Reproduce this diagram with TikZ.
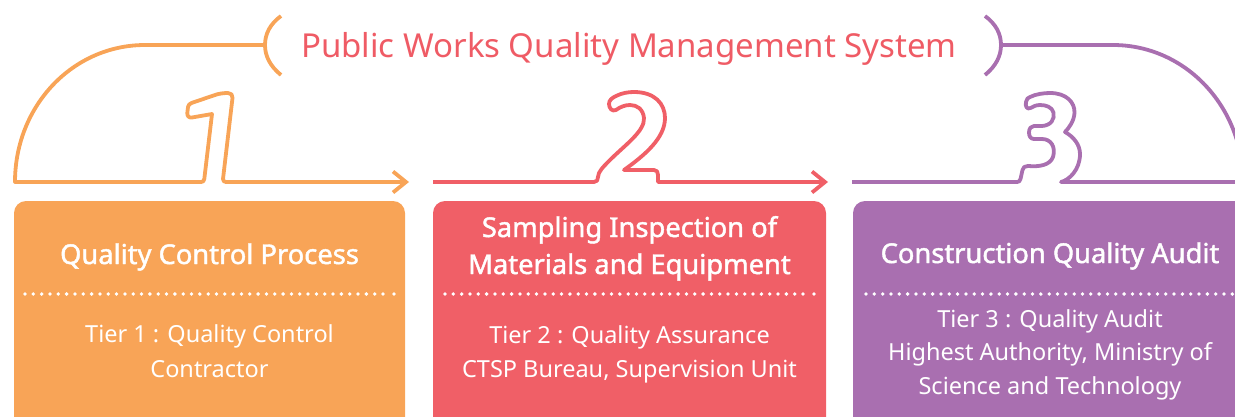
\documentclass[tikz,border=0pt]{standalone}
\usepackage{fontspec}
\setmainfont{Noto Sans}
\newfontfamily\headfont{Noto Sans}[FakeBold=1.6]
\definecolor{cOr}{HTML}{F8A457}
\definecolor{cRd}{HTML}{F05F67}
\definecolor{cPu}{HTML}{A96FB0}
\definecolor{cTitle}{HTML}{EF5B65}
\begin{document}
\begin{tikzpicture}[x=1pt,y=-1pt,
  numline/.style={line width=3.8pt, line join=round, line cap=butt},
  chev/.style={line width=3.8pt, line join=miter, line cap=butt},
  boxfill/.style={rounded corners=12pt},
  dotcol/.style={white},
  head/.style={text=white, font=\headfont\fontsize{27.3}{32}\selectfont, anchor=base, inner sep=0pt},
  body/.style={text=white, font=\fontsize{23.5}{28}\selectfont, anchor=base, inner sep=0pt},
  title/.style={text=cTitle, font=\fontsize{33}{38}\selectfont, anchor=base, inner sep=0pt}]
\useasboundingbox (0,0) rectangle (1235,416);
\clip (0,0) rectangle (1235,416);

% ---------- title ----------
\node[title] (title) at (629,57) {Public Works Quality Management System};

% ---------- orange line with numeral 1 ----------
\draw[numline, cOr] (281,16) .. controls (270,24) and (265,34) .. (265,45)
   .. controls (265,56) and (270,66) .. (281,75);
\draw[numline, cOr] (265,45) -- (145,45) .. controls (72.6,45) and (15,106) .. (15,182)
   -- (201,182) .. controls (203,182) and (204,181) .. (204.3,179)
   -- (212,114) -- (192,117.5) .. controls (189,118) and (187,116) .. (187.3,113)
   -- (188,107) .. controls (188.3,105) and (189.5,104) .. (191.5,103)
   -- (215,95) .. controls (219,93.5) and (224,93) .. (228,93)
   .. controls (231,93) and (233,95) .. (232.5,98)
   -- (223,179) .. controls (223.3,181) and (224,182) .. (226,182) -- (405,182);
\coordinate (tip1) at (406,182);
\draw[chev, cOr] (393,171.5) -- (tip1) -- (393,192.5);

% ---------- red line with numeral 2 ----------
\draw[numline, cRd] (433,182) -- (594,182) .. controls (597,182) and (598,180) .. (598,177)
   .. controls (598,172) and (603,167) .. (610,160)
   .. controls (625,145) and (645,131) .. (644,118)
   .. controls (643,109) and (637,105) .. (630,105)
   .. controls (625,105) and (620,107) .. (616,110)
   .. controls (612,112) and (609,108) .. (609,104)
   .. controls (609,100) and (612,98) .. (616,96)
   .. controls (622,93) and (628,92) .. (634,92)
   .. controls (655,92) and (665,104) .. (665,118)
   .. controls (665,138) and (645,155) .. (624,170)
   -- (654,170) .. controls (657,170) and (658,172) .. (658,175)
   -- (658,182) -- (824,182);
\coordinate (tip2) at (825,182);
\draw[chev, cRd] (812,171.5) -- (tip2) -- (812,192.5);

% ---------- purple line with numeral 3 ----------
\draw[numline, cPu] (985,16) .. controls (996,24) and (1001,34) .. (1001,45)
   .. controls (1001,56) and (996,66) .. (985,75);
\draw[numline, cPu] (852,182) -- (1017,182) .. controls (1019,182) and (1020,181) .. (1020.5,179)
   -- (1022.5,170) .. controls (1023,167) and (1025,166) .. (1028,166)
   .. controls (1040,167) and (1050,165) .. (1053,157)
   .. controls (1056,147) and (1051,139) .. (1042,139)
   -- (1034,139) .. controls (1030.5,139) and (1029,136) .. (1029,132.5)
   .. controls (1029,128.5) and (1031,126) .. (1034,126)
   -- (1042,126) .. controls (1051,125.5) and (1055,119) .. (1053.5,112.5)
   .. controls (1052,107) and (1046,105) .. (1040,105)
   .. controls (1036,105) and (1033,106.5) .. (1030.5,108)
   .. controls (1027,110) and (1025,106) .. (1026,102)
   .. controls (1026.5,99) and (1028,97.5) .. (1030,97)
   .. controls (1036,94) and (1044,93) .. (1050,93)
   .. controls (1066,93) and (1075,102) .. (1074.5,113)
   .. controls (1074,121) and (1069,128) .. (1065,132)
   .. controls (1074,137) and (1080,145) .. (1080,154)
   .. controls (1080,170) and (1069,180) .. (1061,182)
   -- (1240,182);
\draw[numline, cPu] (1001,45) -- (1113,45) .. controls (1185,45) and (1243,106) .. (1243,182);

% ---------- boxes ----------
\fill[cOr, boxfill] (14,201) rectangle (405,440);
\fill[cRd, boxfill] (433,201) rectangle (826,440);
\fill[cPu, boxfill] (853,201) rectangle (1246,440);

% dotted separators
\foreach \i in {0,...,43} {
  \fill[dotcol] (25+\i*8.326,294) circle (1.9pt);
  \fill[dotcol] (445+\i*8.326,294) circle (1.9pt);
}
\fill[dotcol] (394,294) circle (1.9pt);
\fill[dotcol] (814,294) circle (1.9pt);
\foreach \i in {0,...,45} {
  \fill[dotcol] (866+\i*8.326,294) circle (1.9pt);
}

% ---------- box texts ----------
\node[head] (h1) at (209.5,264) {Quality Control Process};
\node[body] (t1a) at (209.5,342) {Tier 1 : Quality Control};
\node[body] (t1b) at (209.5,377) {Contractor};

\node[head] (h2a) at (629.5,237) {Sampling Inspection of};
\node[head] (h2b) at (629.5,274) {Materials and Equipment};
\node[body] (t2a) at (629.5,343) {Tier 2 : Quality Assurance};
\node[body] (t2b) at (629.5,377) {CTSP Bureau, Supervision Unit};

\node[head] (h3) at (1050,263) {Construction Quality Audit};
\node[body] (t3a) at (1050,327) {Tier 3 : Quality Audit};
\node[body] (t3b) at (1050,360) {Highest Authority, Ministry of};
\node[body] (t3c) at (1050,394) {Science and Technology};
\end{tikzpicture}
\end{document}
